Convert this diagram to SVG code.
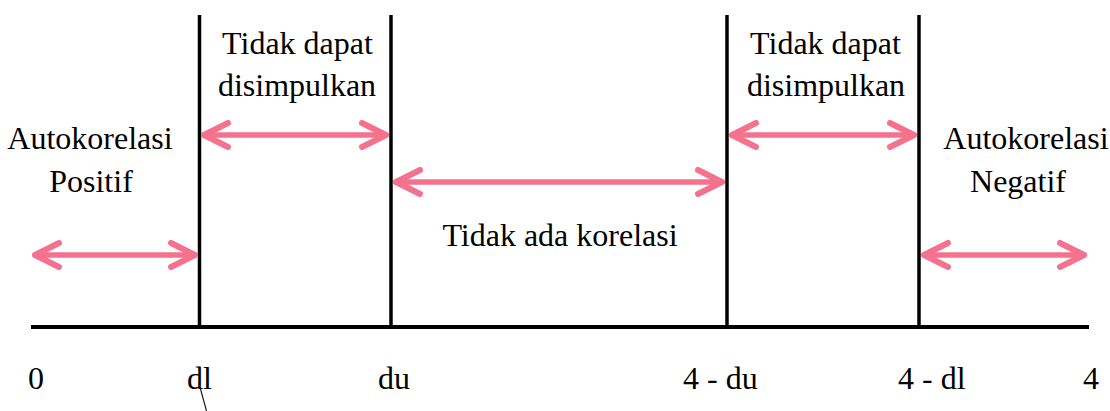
<svg xmlns="http://www.w3.org/2000/svg" width="1110" height="411" viewBox="0 0 1110 411">
  <style>
    text { font-family: "Liberation Serif", "Times New Roman", serif; font-size: 32px; fill: #000; }
    .mid { text-anchor: middle; }
    .axis { stroke: #000; stroke-width: 4; fill: none; }
    .bound { stroke: #000; stroke-width: 3.5; fill: none; }
    .range { stroke: #F5728F; stroke-width: 5.5; stroke-linecap: round; fill: none;
             marker-start: url(#head); marker-end: url(#head); }
  </style>
  <defs>
    <marker id="head" markerUnits="userSpaceOnUse" markerWidth="40" markerHeight="40"
            refX="0" refY="0" viewBox="-30 -20 40 40" orient="auto-start-reverse" overflow="visible">
      <path d="M -24 -12 L 0 0 L -24 12" fill="none" stroke="#F5728F" stroke-width="6"
            stroke-linecap="round" stroke-linejoin="round"/>
    </marker>
  </defs>

  <rect width="1110" height="411" fill="#fff"/>

  <!-- number line and decision boundaries -->
  <g id="axis">
    <line class="axis" x1="31" y1="327" x2="1089" y2="327"/>
  </g>
  <g id="boundaries">
    <line class="bound" x1="199.5" y1="15" x2="199.5" y2="327"/>
    <line class="bound" x1="391" y1="15" x2="391" y2="327"/>
    <line class="bound" x1="727" y1="15" x2="727" y2="327"/>
    <line class="bound" x1="919" y1="15" x2="919" y2="327"/>
  </g>

  <!-- region ranges -->
  <g id="connectors">
    <line class="range" x1="35" y1="255" x2="195" y2="255"/>
    <line class="range" x1="204" y1="135" x2="386" y2="135"/>
    <line class="range" x1="396" y1="182" x2="722" y2="182"/>
    <line class="range" x1="732" y1="135" x2="914" y2="135"/>
    <line class="range" x1="924" y1="255" x2="1084" y2="255"/>
  </g>

  <!-- region labels -->
  <g id="region-positive">
    <text class="mid" x="90" y="149">Autokorelasi</text>
    <text class="mid" x="91" y="192">Positif</text>
  </g>
  <g id="region-undecided-low">
    <text class="mid" x="297.5" y="54">Tidak dapat</text>
    <text class="mid" x="297" y="96">disimpulkan</text>
  </g>
  <g id="region-none">
    <text class="mid" x="560" y="246">Tidak ada korelasi</text>
  </g>
  <g id="region-undecided-high">
    <text class="mid" x="825.5" y="54">Tidak dapat</text>
    <text class="mid" x="826" y="96">disimpulkan</text>
  </g>
  <g id="region-negative">
    <text class="mid" x="1026" y="149">Autokorelasi</text>
    <text class="mid" x="1018" y="192">Negatif</text>
  </g>

  <!-- tick labels -->
  <g id="ticks">
    <text x="28" y="389">0</text>
    <text x="187" y="389">dl</text>
    <text x="378" y="389">du</text>
    <text x="683" y="389">4 - du</text>
    <text x="898" y="389">4 - dl</text>
    <text x="1083" y="389">4</text>
  </g>

  <!-- pointer stroke under dl -->
  <line x1="200.5" y1="389" x2="206.5" y2="411" stroke="#222" stroke-width="1.2"/>
</svg>
